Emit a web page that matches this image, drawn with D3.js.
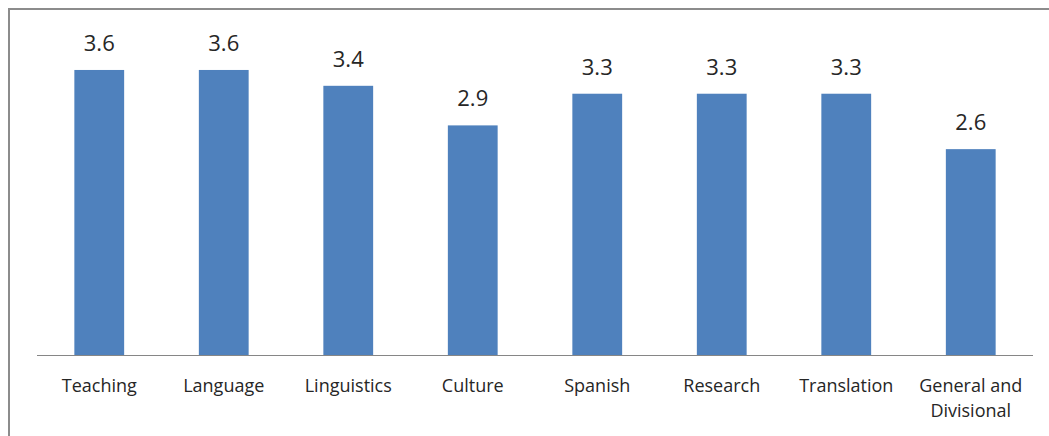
<!DOCTYPE html>
<html>
<head>
<meta charset="utf-8">
<script src="https://cdn.jsdelivr.net/npm/d3@7"></script>
<style>
  html, body { margin: 0; padding: 0; background: #fff; }
  svg { display: block; }
</style>
</head>
<body>
<svg id="chart" width="1049" height="436"></svg>
<script>
// Category names (line breaks split multi-line labels)
const categories = ["Teaching", "Language", "Linguistics", "Culture", "Spanish", "Research", "Translation", "General and\nDivisional"];
// Mean score per category
const values = [3.6, 3.6, 3.4, 2.9, 3.3, 3.3, 3.3, 2.6];
// Value axis extent
const yDomain = [0, 4];

const svg = d3.select("#chart");
const W = 1049, H = 436;
const font = "'Open Sans', 'Noto Sans', sans-serif";

// Chart frame
svg.append("rect")
  .attr("x", 9).attr("y", 9)
  .attr("width", W + 10).attr("height", H + 10)
  .attr("fill", "#fff")
  .attr("stroke", "#8c8c8c")
  .attr("stroke-width", 2);

const plot = { left: 37, right: 1033, top: 38.3, bottom: 355 };

const x = d3.scaleBand()
  .domain(categories)
  .range([plot.left, plot.right])
  .paddingInner(0.6)
  .paddingOuter(0.3);

const y = d3.scaleLinear()
  .domain(yDomain)
  .range([plot.bottom, plot.top]);

const data = categories.map((c, i) => ({ cat: c, val: values[i] }));

// Bars
svg.append("g").selectAll("rect")
  .data(data)
  .join("rect")
  .attr("x", d => x(d.cat))
  .attr("y", d => y(d.val))
  .attr("width", x.bandwidth())
  .attr("height", d => y(0) - y(d.val))
  .attr("fill", "#4f81bd");

// Value labels
svg.append("g").selectAll("text")
  .data(data)
  .join("text")
  .attr("x", d => x(d.cat) + x.bandwidth() / 2)
  .attr("y", d => y(d.val) - 19)
  .attr("text-anchor", "middle")
  .attr("font-family", font)
  .attr("font-size", 22)
  .attr("fill", "#262626")
  .text(d => d3.format(".1f")(d.val));

// Category axis
const xAxis = d3.axisBottom(x).tickSize(0).tickFormat("");
const axisG = svg.append("g")
  .attr("transform", `translate(0,${y(0)})`)
  .call(xAxis);
axisG.select(".domain")
  .attr("stroke", "#868686")
  .attr("stroke-width", 1.2)
  .attr("d", `M${plot.left},0.5H${plot.right}`);

axisG.selectAll(".tick").each(function(d) {
  const t = d3.select(this).append("text")
    .attr("text-anchor", "middle")
    .attr("font-family", font)
    .attr("font-size", 18)
    .attr("fill", "#262626");
  d.split("\n").forEach((line, i) => {
    t.append("tspan")
      .attr("x", 0)
      .attr("y", 37 + i * 25)
      .text(line);
  });
});
</script>
</body>
</html>
